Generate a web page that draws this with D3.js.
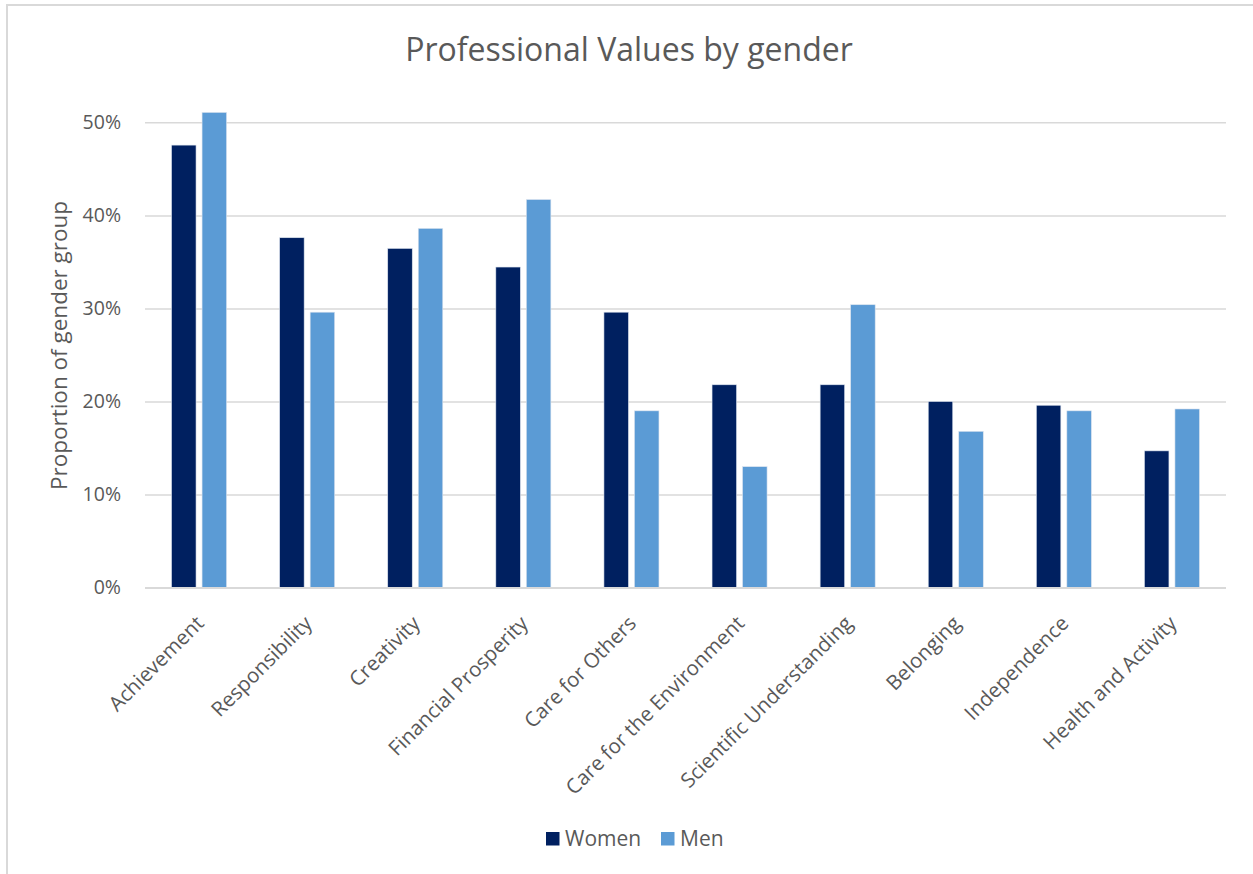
<!DOCTYPE html>
<html>
<head>
<meta charset="utf-8">
<script src="https://cdn.jsdelivr.net/npm/d3@7"></script>
<style>
  html, body { margin: 0; padding: 0; background: #fff; }
  svg { display: block; font-family: "Open Sans", "Noto Sans", sans-serif; }
</style>
</head>
<body>
<svg id="chart" width="1253" height="874"></svg>
<script>
// Professional values, share of each gender group
const categories = [
  "Achievement", "Responsibility", "Creativity", "Financial Prosperity",
  "Care for Others", "Care for the Environment", "Scientific Understanding",
  "Belonging", "Independence", "Health and Activity"
];
const series = ["Women", "Men"];
const women = [0.4755, 0.376, 0.3645, 0.3445, 0.296, 0.218, 0.218, 0.200, 0.196, 0.147];
const men   = [0.5106, 0.296, 0.386, 0.417, 0.190, 0.130, 0.304, 0.168, 0.190, 0.192];
const yTicks = [0, 0.1, 0.2, 0.3, 0.4, 0.5];
const colors = { Women: "#002060", Men: "#5B9BD5" };

const FONT = '"Open Sans", "Noto Sans", sans-serif';
const svg = d3.select("#chart");
const textColor = "#595959";
const gridColor = "#d9d9d9";

// chart frame
svg.append("rect")
  .attr("x", 7).attr("y", 5)
  .attr("width", 1260).attr("height", 880)
  .attr("fill", "none")
  .attr("stroke", gridColor)
  .attr("stroke-width", 2);

const plot = { left: 145, right: 1226, top: 122.3, bottom: 587.7 };

const x0 = d3.scaleBand()
  .domain(categories)
  .range([plot.left, plot.right])
  .paddingInner(0.491)
  .paddingOuter(0.2455);

const x1 = d3.scaleBand()
  .domain(series)
  .range([0, x0.bandwidth()])
  .paddingInner(0.197);

const y = d3.scaleLinear()
  .domain([0, 0.5])
  .range([plot.bottom, plot.top]);

// gridlines + y labels
const yAxis = d3.axisLeft(y)
  .tickValues(yTicks)
  .tickFormat(d3.format(".0%"))
  .tickSize(-(plot.right - plot.left))
  .tickPadding(24);

const gy = svg.append("g")
  .attr("transform", `translate(${plot.left},0)`)
  .call(yAxis)
  .attr("font-family", FONT);
gy.select(".domain").remove();
gy.selectAll(".tick line")
  .attr("stroke", gridColor)
  .attr("stroke-width", 1.5);
gy.selectAll(".tick text")
  .attr("fill", textColor)
  .style("font-size", "19.5px");

// bars
const rows = categories.map((c, i) => ({ category: c, Women: women[i], Men: men[i] }));

const groups = svg.append("g")
  .selectAll("g")
  .data(rows)
  .join("g")
  .attr("transform", d => `translate(${x0(d.category)},0)`);

groups.selectAll("rect")
  .data(d => series.map(s => ({ key: s, value: d[s] })))
  .join("rect")
  .attr("x", d => x1(d.key))
  .attr("width", x1.bandwidth())
  .attr("y", d => y(d.value))
  .attr("height", d => y(0) - y(d.value))
  .attr("fill", d => colors[d.key])
  .attr("stroke", "#dbe3ee")
  .attr("stroke-width", 0.6);

// category axis
const xAxis = d3.axisBottom(x0).tickSize(0).tickPadding(0);
const gx = svg.append("g")
  .attr("transform", `translate(0,${plot.bottom})`)
  .call(xAxis)
  .attr("font-family", FONT);
gx.select(".domain")
  .attr("stroke", gridColor)
  .attr("stroke-width", 1.5)
  .attr("d", `M${plot.left},0H${plot.right}`);
gx.selectAll(".tick text")
  .attr("fill", textColor)
  .style("font-size", "20.5px")
  .attr("text-anchor", "end")
  .attr("dy", 0)
  .attr("transform", "translate(6,37) rotate(-45)");

// y axis title
svg.append("text")
  .attr("transform", `translate(67,${(198 + 493) / 2}) rotate(-90)`)
  .attr("text-anchor", "middle")
  .attr("fill", textColor)
  .style("font-size", "22.5px")
  .text("Proportion of gender group");

// chart title
svg.append("text")
  .attr("x", 629)
  .attr("y", 61)
  .attr("text-anchor", "middle")
  .attr("fill", textColor)
  .style("font-size", "32px")
  .text("Professional Values by gender");

// legend
const legend = svg.append("g").attr("transform", "translate(546,832)");
const legendOffsets = [0, 115];
series.forEach((s, i) => {
  const g = legend.append("g").attr("transform", `translate(${legendOffsets[i]},0)`);
  g.append("rect")
    .attr("width", 13.5).attr("height", 13.5)
    .attr("fill", colors[s]);
  g.append("text")
    .attr("x", 19).attr("y", 14)
    .attr("fill", textColor)
    .style("font-size", "21px")
    .text(s);
});
</script>
</body>
</html>
